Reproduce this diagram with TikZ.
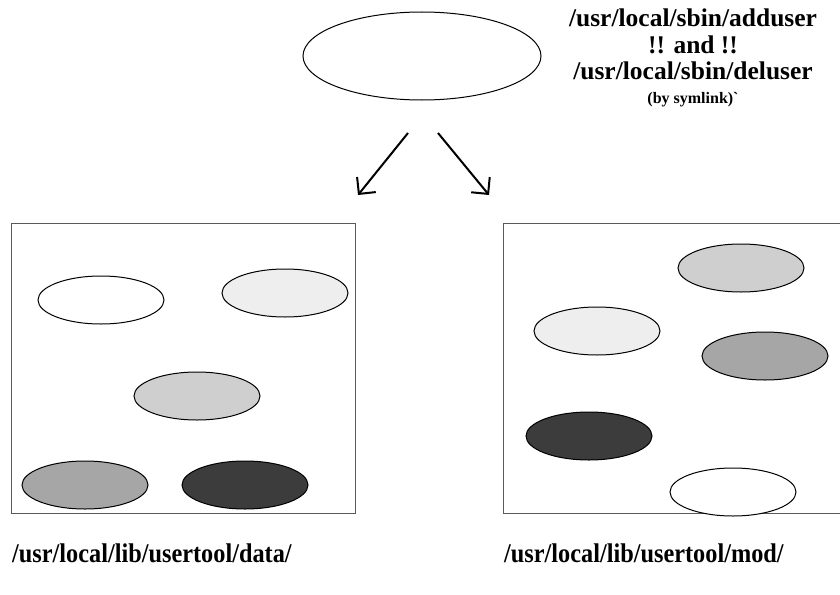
\documentclass[tikz,border=0pt]{standalone}
\usepackage{fontspec}
\setmainfont{Liberation Serif}
\newfontfamily\lblfont[FakeStretch=0.9]{Liberation Serif}
\newfontfamily\rawfont[Ligatures=ResetAll]{Liberation Serif}
\usetikzlibrary{arrows.meta,shapes.geometric}
\definecolor{gA}{HTML}{EEEEEE}
\definecolor{gB}{HTML}{CFCFCF}
\definecolor{gC}{HTML}{A6A6A6}
\definecolor{gD}{HTML}{3C3C3C}
\definecolor{boxline}{HTML}{5A5A5A}
\tikzset{
  blob/.style={ellipse, draw=black, line width=1pt, minimum width=126pt, minimum height=48pt, inner sep=0pt},
  dirbox/.style={rectangle, draw=boxline, line width=1.3pt, inner sep=0pt},
  lbl/.style={font=\lblfont\fontsize{27}{29}\selectfont\bfseries, inner sep=0pt},
  arr/.style={line width=2pt, -{Straight Barb[length=12pt,width=24pt,line width=2pt]}}
}
\begin{document}
\begin{tikzpicture}[x=1pt,y=-1pt]
\clip (0,0) rectangle (840,594);
\fill[white] (0,0) rectangle (840,594);
% top ellipse
\node[ellipse, draw=black, line width=1pt, minimum width=238pt, minimum height=88pt, inner sep=0pt] (top) at (422,56) {};
% text
\node[align=center, anchor=north, inner sep=0pt, font=\fontsize{25.5}{26.5}\selectfont\bfseries] (txt) at (693,9)
  {/usr/local/sbin/adduser\\!! and !!\\/usr/local/sbin/deluser\\[-3pt]{\fontsize{16}{18}\selectfont (by symlink)\rawfont\bfseries`}};
% arrows
\coordinate (l1) at (408,133);
\coordinate (l2) at (358,195);
\coordinate (r1) at (438,133);
\coordinate (r2) at (489,195);
\draw[arr] (l1) -- (l2);
\draw[arr] (r1) -- (r2);
% boxes
\node[dirbox, minimum width=344pt, minimum height=290pt, anchor=north west] (dbox) at (11,223) {};
\node[dirbox, minimum width=360pt, minimum height=290pt, anchor=north west] (mbox) at (503,223) {};
% left ellipses
\node[blob, fill=white] (d1) at (101,300) {};
\node[blob, fill=gA] (d2) at (285,293) {};
\node[blob, fill=gB] (d3) at (197,396) {};
\node[blob, fill=gC] (d4) at (85,485) {};
\node[blob, fill=gD] (d5) at (245,485) {};
% right ellipses
\node[blob, fill=gB] (m1) at (741,268) {};
\node[blob, fill=gA] (m2) at (597,331) {};
\node[blob, fill=gC] (m3) at (765,356) {};
\node[blob, fill=gD] (m4) at (589,436) {};
\node[blob, fill=white] (m5) at (733,492) {};
% labels
\node[lbl, anchor=west] (dl) at (12,553) {/usr/local/lib/usertool/data/};
\node[lbl, anchor=west] (ml) at (504,553) {/usr/local/lib/usertool/mod/};
\end{tikzpicture}
\end{document}
